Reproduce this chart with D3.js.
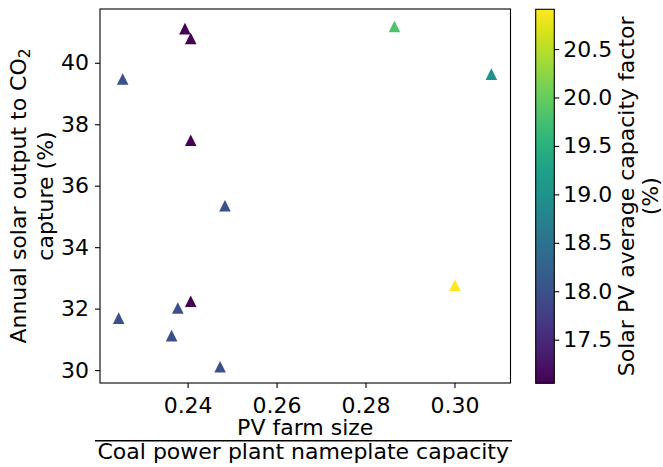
<!DOCTYPE html>
<html>
<head>
<meta charset="utf-8">
<script src="https://cdn.jsdelivr.net/npm/d3@7"></script>
<style>
  body { margin: 0; background: #fff; }
  text { font-family: "DejaVu Sans", sans-serif; fill: #000; }
</style>
</head>
<body>
<div class="canvas"></div>
<script>
// PV farm size / coal nameplate capacity
const pvSize = [0.2394, 0.2407, 0.2865, 0.2254, 0.3083, 0.2407, 0.2484, 0.3001, 0.2407, 0.2378, 0.2245, 0.2364, 0.2473];
// annual solar output to CO2 capture (%)
const solarShare = [41.11, 40.79, 41.18, 39.47, 39.63, 37.48, 35.35, 32.76, 32.24, 32.02, 31.69, 31.12, 30.11];
// solar PV average capacity factor (%)
const capFactor = [17.05, 17.06, 19.83, 18.0, 19.0, 17.06, 18.0, 20.91, 17.05, 17.98, 18.0, 17.98, 17.98];

const xTicks = [0.24, 0.26, 0.28, 0.30];
const yTicks = [30, 32, 34, 36, 38, 40];
const cTicks = [17.5, 18.0, 18.5, 19.0, 19.5, 20.0, 20.5];

const dims = { width: 663, height: 467 };
const plot = { left: 100, right: 510.5, top: 9, bottom: 383 };
const cbar = { left: 535.7, right: 554.3, top: 9.3, bottom: 383.3 };
const fs = 22;

const svg = d3.select('.canvas')
  .append('svg')
  .attr('width', dims.width)
  .attr('height', dims.height);

const x = d3.scaleLinear().domain([0.2203, 0.3126]).range([plot.left, plot.right]);
const y = d3.scaleLinear().domain([29.58, 41.75]).range([plot.bottom, plot.top]);
const color = d3.scaleSequential(d3.interpolateViridis).domain([17.05, 20.91]);

// axes
const styleAxis = (g) => {
  g.select('.domain').remove();
  g.selectAll('.tick line').attr('stroke', '#000').attr('stroke-width', 1.1);
  g.selectAll('.tick text').attr('font-size', fs).attr('fill', '#000')
    .style('font-family', '"DejaVu Sans", sans-serif');
};

svg.append('g')
  .attr('transform', `translate(0, ${plot.bottom})`)
  .call(d3.axisBottom(x).tickValues(xTicks).tickFormat(d3.format('.2f')).tickSize(5).tickPadding(9))
  .call(styleAxis);

svg.append('g')
  .attr('transform', `translate(${plot.left}, 0)`)
  .call(d3.axisLeft(y).tickValues(yTicks).tickFormat(d3.format('d')).tickSize(5).tickPadding(6))
  .call(styleAxis);

// points
svg.append('g')
  .selectAll('path')
  .data(pvSize.map((v, i) => ({ x: v, y: solarShare[i], c: capFactor[i] })))
  .enter()
  .append('path')
    .attr('d', 'M0,-5.8L5.8,5.8L-5.8,5.8Z')
    .attr('transform', d => `translate(${x(d.x)}, ${y(d.y)})`)
    .attr('fill', d => color(d.c));

// frame
svg.append('rect')
  .attr('x', plot.left).attr('y', plot.top)
  .attr('width', plot.right - plot.left).attr('height', plot.bottom - plot.top)
  .attr('fill', 'none').attr('stroke', '#000').attr('stroke-width', 1.1);

// y label
const yLab = svg.append('text')
  .attr('transform', `translate(26, ${(plot.top + plot.bottom) / 2}) rotate(-90)`)
  .attr('text-anchor', 'middle')
  .attr('font-size', fs);
yLab.append('tspan').attr('x', 0).attr('dy', 0).text('Annual solar output to CO');
yLab.append('tspan').attr('font-size', fs * 0.7).attr('dy', 4).text('2');
yLab.append('tspan').attr('x', 0).attr('dy', 23).text('capture (%)');

// x label as a fraction
const xMid = (plot.left + plot.right) / 2;
svg.append('text')
  .attr('x', xMid).attr('y', 435)
  .attr('text-anchor', 'middle').attr('font-size', fs)
  .text('PV farm size');
svg.append('line')
  .attr('x1', 95).attr('x2', 512).attr('y1', 440.7).attr('y2', 440.7)
  .attr('stroke', '#000').attr('stroke-width', 1.5);
svg.append('text')
  .attr('x', xMid - 2).attr('y', 459)
  .attr('text-anchor', 'middle').attr('font-size', fs)
  .text('Coal power plant nameplate capacity');

// colorbar
const grad = svg.append('defs').append('linearGradient')
  .attr('id', 'cgrad')
  .attr('x1', 0).attr('y1', 1).attr('x2', 0).attr('y2', 0);
d3.range(0, 1.0001, 0.05).forEach(t => {
  grad.append('stop')
    .attr('offset', t)
    .attr('stop-color', d3.interpolateViridis(t));
});

svg.append('rect')
  .attr('x', cbar.left).attr('y', cbar.top)
  .attr('width', cbar.right - cbar.left).attr('height', cbar.bottom - cbar.top)
  .attr('fill', 'url(#cgrad)')
  .attr('stroke', '#000').attr('stroke-width', 1.1);

const cScale = d3.scaleLinear().domain(color.domain()).range([cbar.bottom, cbar.top]);
svg.append('g')
  .attr('transform', `translate(${cbar.right}, 0)`)
  .call(d3.axisRight(cScale).tickValues(cTicks).tickFormat(d3.format('.1f')).tickSize(5).tickPadding(4))
  .call(styleAxis);

const cLab = svg.append('text')
  .attr('transform', `translate(634, ${(cbar.top + cbar.bottom) / 2}) rotate(-90)`)
  .attr('text-anchor', 'middle')
  .attr('font-size', fs);
cLab.append('tspan').attr('x', 0).attr('dy', 0).text('Solar PV average capacity factor');
cLab.append('tspan').attr('x', 0).attr('dy', 24).text('(%)');
</script>
</body>
</html>
